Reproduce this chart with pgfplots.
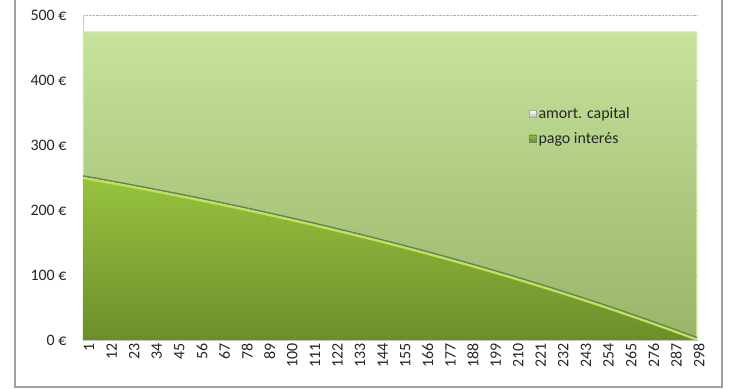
\documentclass[border=0pt]{standalone}
\usepackage{fontspec}
\setmainfont{Carlito}
\usepackage{pgfplots}
\pgfplotsset{compat=1.18}
\usepackage{pgfplotstable}
\definecolor{amtop}{HTML}{C6E29C}
\definecolor{ambot}{HTML}{9AB567}
\definecolor{intop}{HTML}{97C23F}
\definecolor{inbot}{HTML}{6C8E2A}
\definecolor{hilite}{HTML}{DDF0AE}
\definecolor{shadowc}{HTML}{6E7D5C}
\definecolor{brightc}{HTML}{B9E84C}
\definecolor{labc}{HTML}{262626}
\pgfplotstableread{
k interest amort
1 250.00 224.21
12 243.76 230.45
23 237.34 236.87
34 230.74 243.47
45 223.96 250.25
56 217.00 257.21
67 209.83 264.38
78 202.47 271.74
89 194.90 279.31
100 187.13 287.08
111 179.13 295.08
122 170.92 303.29
133 162.47 311.74
144 153.79 320.42
155 144.87 329.34
166 135.70 338.51
177 126.27 347.94
188 116.58 357.63
199 106.62 367.59
210 96.39 377.82
221 85.87 388.34
232 75.05 399.16
243 63.94 410.27
254 52.51 421.70
265 40.77 433.44
276 28.70 445.51
287 16.30 457.91
298 3.55 470.66
300 1.18 473.03
}\loantable
\begin{document}
\begin{tikzpicture}
\path[use as bounding box] (-83bp,-49bp) rectangle (657bp,340bp);
\fill[white] (-83bp,-49bp) rectangle (657bp,340bp);
\draw[gray!75, line width=1.2bp] (-68bp,341bp) -- (-68bp,-47bp) -- (639bp,-47bp) -- (639bp,341bp);
\begin{axis}[
  at={(0,0)}, anchor=south west,
  scale only axis, width=614bp, height=325bp,
  xmin=1, xmax=300, ymin=0, ymax=500,
  stack plots=y,
  axis lines*=left,
  axis line style={draw=gray!45, line width=0.6bp},
  major tick length=0pt,
  ymajorgrids, grid style={gray!60, densely dotted, line width=0.6bp},
  ytick={0,100,200,300,400,500},
  yticklabels={0 €,100 €,200 €,300 €,400 €,500 €},
  xtick={1,12,...,298},
  /pgf/number format/assume math mode=true,
  tick label style={font=\fontsize{16}{16}\selectfont, text=labc},
  yticklabel style={xshift=-13bp},
  xticklabel style={rotate=90, anchor=east, yshift=-6bp},
  legend style={at={(0.726,0.722)}, anchor=north west, draw=none, fill=none,
    font=\fontsize{16}{18}\selectfont, text=labc, row sep=8bp, inner sep=0pt,
    cells={anchor=west}},
  reverse legend,
]
\addplot[draw=none, top color=intop, bottom color=inbot,
  legend image code/.code={\draw[green!25!black!60, line width=0.6bp, fill=intop] (0bp,-3.5bp) rectangle (7bp,3.5bp);}]
  table[x=k, y=interest]{\loantable} \closedcycle;
\addlegendentry{pago interés}
\addplot[draw=hilite, line width=1.2bp, top color=amtop, bottom color=ambot,
  legend image code/.code={\draw[gray!70, line width=0.6bp, top color=white, bottom color=gray!55] (0bp,-3.5bp) rectangle (7bp,3.5bp);}]
  table[x=k, y=amort]{\loantable} \closedcycle;
\addlegendentry{amort. capital}
\end{axis}
\begin{axis}[
  at={(0,0)}, anchor=south west,
  scale only axis, width=614bp, height=325bp,
  xmin=1, xmax=300, ymin=0, ymax=500,
  hide axis,
]
\addplot[no marks, draw=shadowc, line width=1.4bp, yshift=1.6bp] table[x=k, y=interest]{\loantable};
\addplot[no marks, draw=brightc, line width=2bp, yshift=-0.6bp] table[x=k, y=interest]{\loantable};
\end{axis}
\end{tikzpicture}
\end{document}
